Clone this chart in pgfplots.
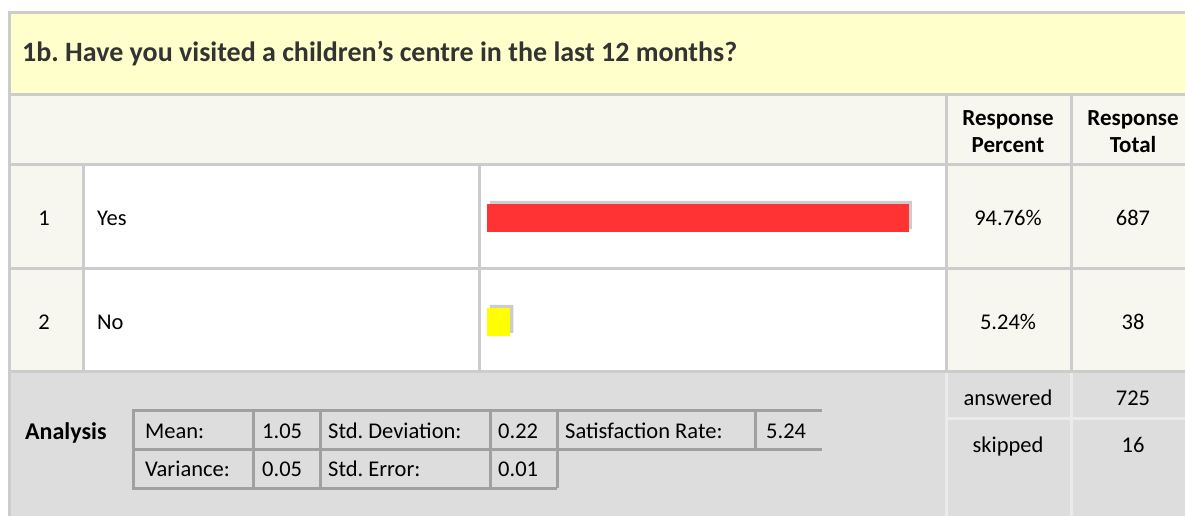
\documentclass[border=0pt]{standalone}
\usepackage{fontspec}
\setmainfont{Carlito}
\usepackage{pgfplots}
\pgfplotsset{compat=1.18}
\definecolor{titlebg}{HTML}{FFFFCC}
\definecolor{hdrbg}{HTML}{F7F7F0}
\definecolor{anbg}{HTML}{DDDDDD}
\definecolor{gridc}{HTML}{CCCCCC}
\definecolor{lightl}{HTML}{EBEBEB}
\definecolor{inner}{HTML}{A0A0A0}
\definecolor{barred}{HTML}{FF3333}
\definecolor{baryel}{HTML}{FFFF00}
\definecolor{txt}{HTML}{000000}
\definecolor{ttl}{HTML}{333333}
\newcommand\bodyfont{\fontsize{22.5}{27}\selectfont}
\frenchspacing
\begin{document}
\frenchspacing
\begin{tikzpicture}
\begin{axis}[name=bg, at={(0,0)}, anchor=south west, scale only axis, width=1185pt, height=516pt,
  xmin=0, xmax=1185, ymin=0, ymax=516, y dir=reverse, hide axis, clip=false]
\addplot[draw=none, forget plot] coordinates {(0,0) (1185,516)};
% backgrounds
\fill[white] (0,0) rectangle (1185,516);
\fill[titlebg] (11,14) rectangle (1185,93);
\fill[hdrbg] (11,96) rectangle (1185,163);
\fill[hdrbg] (11,166) rectangle (1185,370);
\fill[white] (85,166) rectangle (945,370);
\fill[anbg] (11,373) rectangle (1185,516);
% grid lines
\fill[gridc] (8,11) rectangle (1185,14);
\fill[gridc] (8,11) rectangle (11,516);
\fill[gridc] (8,93) rectangle (1185,96);
\fill[gridc] (8,163) rectangle (1185,166);
\fill[gridc] (8,267) rectangle (1185,270);
\fill[gridc] (8,370) rectangle (1185,373);
\fill[gridc] (82,163) rectangle (85,373);
\fill[gridc] (478,163) rectangle (481,373);
\fill[gridc] (945,93) rectangle (948,373);
\fill[gridc] (1070,93) rectangle (1073,373);
\fill[lightl] (945,373) rectangle (948,516);
\fill[lightl] (1070,373) rectangle (1073,516);
\fill[lightl] (948,417) rectangle (1185,420);
% analysis inner table
\draw[inner, line width=3pt] (822,410) -- (133,410) -- (133,488) -- (557,488);
\draw[inner, line width=3pt] (133,449) -- (822,449);
\draw[inner, line width=3pt] (253,410) -- (253,488);
\draw[inner, line width=3pt] (320,410) -- (320,488);
\draw[inner, line width=3pt] (490,410) -- (490,488);
\draw[inner, line width=3pt] (557,410) -- (557,488);
\draw[inner, line width=3pt] (755,410) -- (755,449);
% texts
\begin{scope}[every node/.style={inner sep=0pt, text=txt, font=\bodyfont}]
\node[anchor=base west, text=ttl, font=\fontsize{28}{32}\selectfont\bfseries] at (22,62) {1b. Have you visited a children’s centre in the last 12 months?};
\node[anchor=base, font=\fontsize{23}{27}\selectfont\bfseries] at (1008,125) {Response};
\node[anchor=base, font=\fontsize{23}{27}\selectfont\bfseries] at (1008,153) {Percent};
\node[anchor=base, font=\fontsize{23}{27}\selectfont\bfseries] at (1133,125) {Response};
\node[anchor=base, font=\fontsize{23}{27}\selectfont\bfseries] at (1133,153) {Total};
\node[anchor=base] at (44,225) {1};
\node[anchor=base west] at (97,225) {Yes};
\node[anchor=base] at (1008,225) {94.76\%};
\node[anchor=base] at (1133,225) {687};
\node[anchor=base] at (44,329) {2};
\node[anchor=base west] at (97,329) {No};
\node[anchor=base] at (1008,329) {5.24\%};
\node[anchor=base] at (1133,329) {38};
\node[anchor=base west, font=\fontsize{24}{28}\selectfont\bfseries] at (25,439) {Analysis};
\node[anchor=base west] at (145,438) {Mean:};
\node[anchor=base west] at (262,438) {1.05};
\node[anchor=base west] at (328,438) {Std. Deviation:};
\node[anchor=base west] at (498,438) {0.22};
\node[anchor=base west] at (565,438) {Satisfaction Rate:};
\node[anchor=base west] at (766,438) {5.24};
\node[anchor=base west] at (145,476) {Variance:};
\node[anchor=base west] at (262,476) {0.05};
\node[anchor=base west] at (328,476) {Std. Error:};
\node[anchor=base west] at (498,476) {0.01};
\node[anchor=base] at (1008,405) {answered};
\node[anchor=base] at (1133,405) {725};
\node[anchor=base] at (1008,452) {skipped};
\node[anchor=base] at (1133,452) {16};
\end{scope}
\end{axis}
\begin{axis}[at={(487pt,142pt)}, anchor=south west, scale only axis, width=445.3pt, height=208pt,
  xmin=0, xmax=100, ymin=0.5, ymax=2.5, y dir=reverse, hide axis, clip=false,
  xbar, bar width=28pt, bar shift=0pt]
\addplot[fill=gridc, draw=none, xshift=3pt, yshift=3pt] coordinates {(94.76,1) (5.24,2)};
\addplot[fill=barred, draw=none] coordinates {(94.76,1)};
\addplot[fill=baryel, draw=none] coordinates {(5.24,2)};
\end{axis}
\end{tikzpicture}
\end{document}
